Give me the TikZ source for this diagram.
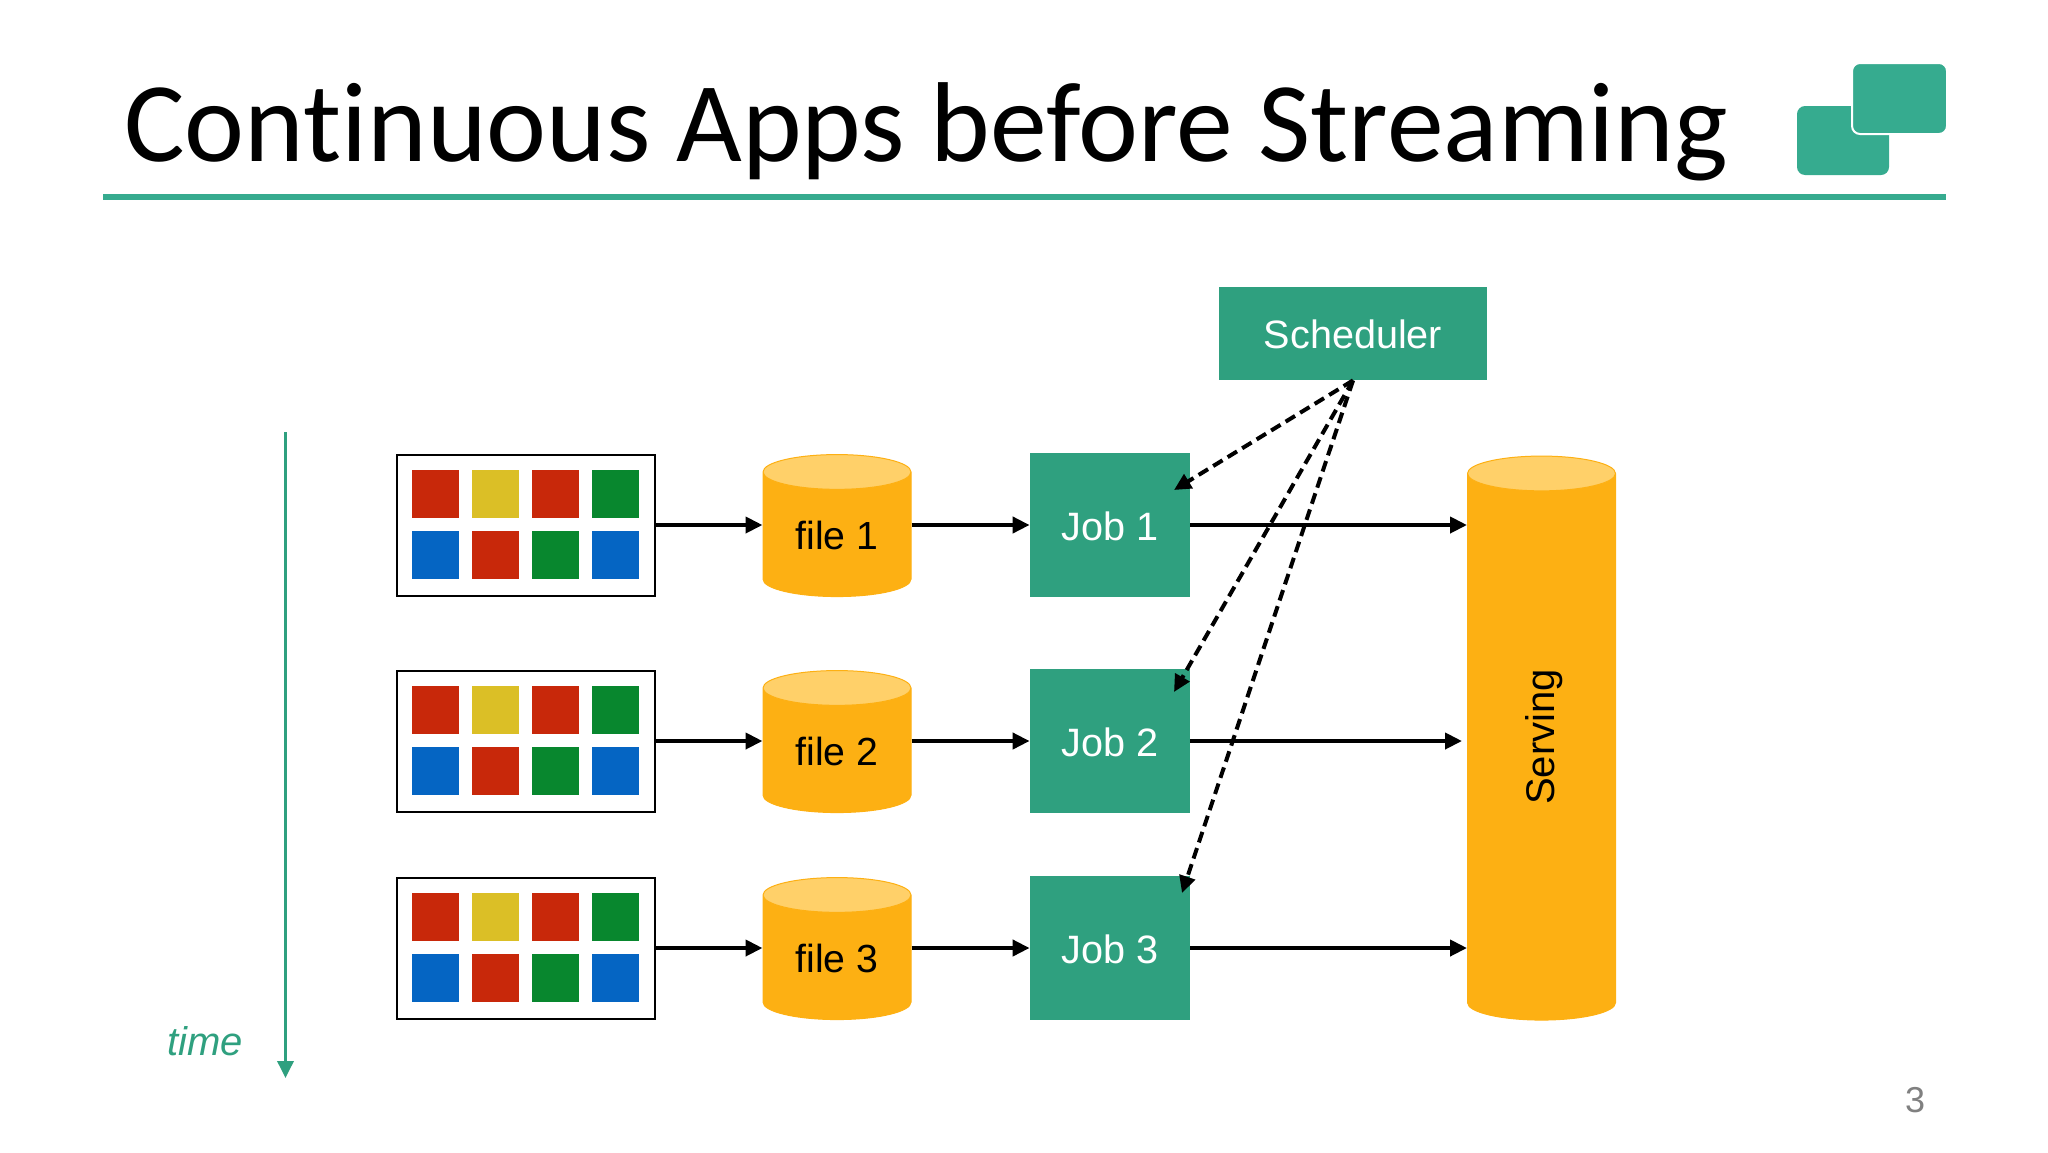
\documentclass[tikz,border=0pt]{standalone}
\usepackage{fontspec}
\setmainfont{Liberation Sans}
\newfontfamily\titlefont[Ligatures=NoCommon]{Carlito}
\usetikzlibrary{positioning}
\usetikzlibrary{shapes.geometric}
\usetikzlibrary{arrows.meta}
\definecolor{teal1}{HTML}{2FA07F}
\definecolor{teal2}{HTML}{36AB8F}
\definecolor{orange1}{HTML}{FDB013}
\definecolor{orange2}{HTML}{FFD069}
\definecolor{red1}{HTML}{C8280A}
\definecolor{yellow1}{HTML}{DBBF26}
\definecolor{green1}{HTML}{08872E}
\definecolor{blue1}{HTML}{0565C3}
\tikzset{
    jobbox/.style={fill=teal1, text=white, minimum width=80pt, minimum height=72pt, inner sep=0pt, text height=15pt, text depth=0pt, font=\fontsize{19.8}{24}\selectfont},
    store/.style={shape=cylinder, shape border rotate=90, draw=orange1, line width=.5pt, cylinder uses custom fill, cylinder body fill=orange1, cylinder end fill=orange2, aspect=.42, inner sep=0pt, text height=15pt, text depth=0pt, font=\fontsize{19.6}{24}\selectfont},
    flow/.style={line width=2pt, -{Triangle[length=8.5pt,width=8pt]}},
    trigger/.style={flow, dash pattern=on 5.5pt off 3pt},
    logobox/.style={fill=teal2, rounded corners=4pt},
}
\begin{document}
\begin{tikzpicture}[x=.5pt,y=-.5pt]
    \useasboundingbox (0,0) rectangle (2048,1152);
    \node[anchor=base west, inner sep=0pt, font=\titlefont\fontsize{56.8}{60}\selectfont] (title) at (124,161.5) {Continuous Apps before Streaming};
    \fill[teal2] (103,194) rectangle (1946,200);
    \fill[logobox] (1797,106) rectangle (1889,175);
    \fill[logobox, draw=white, line width=1pt] (1852,63) rectangle (1947,134);

    \node[jobbox, minimum width=134pt, minimum height=46.5pt] (sched) at (1353,333.5) {Scheduler};
    \node[store, minimum width=74pt, minimum height=282pt] (srv) at (1541.5,747) {\phantom{file 1}};
    \node[rotate=90, font=\fontsize{20}{24}\selectfont] (srvlabel) at (1544,737) {Serving};

    \foreach \n/\y in {1/525, 2/741, 3/948}
    {
        \node[draw, line width=1pt, minimum width=129pt, minimum height=70.5pt, inner sep=0pt] (box\n) at (525.5,\y) {};
        \foreach \i/\j/\k in {0/0/red1, 1/0/yellow1, 2/0/red1, 3/0/green1, 0/1/blue1, 1/1/red1, 2/1/green1, 3/1/blue1}
        {
            \fill[\k] (411.8+60.1*\i, \y-55+61*\j) rectangle ++(47,47.5);
        }
        \node[store, minimum width=74pt, minimum height=71pt] (file\n) at (837,\y+9.5) {file \n};
        \node[jobbox] (job\n) at (1110,\y) {Job \n};
        \draw[flow] (box\n) -- (box\n -| file\n.west);
        \draw[flow] (file\n.east |- job\n) -- (job\n);
    }
    \draw[flow] (job1) -- (job1 -| srv.west);
    \draw[flow, shorten >=2.5pt] (job2) -- (job2 -| srv.west);
    \draw[flow] (job3) -- (job3 -| srv.west);

    \coordinate (hit1) at (1174,490);
    \coordinate (hit2) at (1174,692);
    \coordinate (hit3) at (1182,893);
    \foreach \n in {1,2,3}
        \draw[trigger] (sched.south) -- (hit\n);

    \coordinate (tstart) at (285.5,432);
    \coordinate (tend) at (285.5,1078);
    \draw[teal1, line width=1.75pt, -{Triangle[length=8.5pt,width=8pt]}] (tstart) -- (tend);
    \node[text=teal1, font=\itshape\fontsize{20}{24}\selectfont] (timelabel) at (205,1041) {time};
    \node[text=black!50, font=\fontsize{18}{22}\selectfont] (pagenum) at (1915,1100) {3};
\end{tikzpicture}
\end{document}
